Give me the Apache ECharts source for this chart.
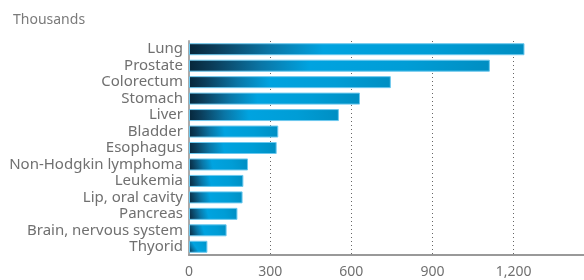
<!DOCTYPE html>
<html>
<head>
<meta charset="utf-8">
<script src="https://cdn.jsdelivr.net/npm/echarts@6/dist/echarts.min.js"></script>
<style>
html,body{margin:0;padding:0;background:#fff;}
#c{width:584px;height:280px;}
</style>
</head>
<body>
<div id="c"></div>
<script>
const categories = ["Lung","Prostate","Colorectum","Stomach","Liver","Bladder","Esophagus","Non-Hodgkin lymphoma","Leukemia","Lip, oral cavity","Pancreas","Brain, nervous system","Thyorid"];
const values = [1240, 1112, 746, 632, 554, 330, 324, 218, 201, 198, 179, 139, 68];
const xTicks = [0, 300, 600, 900, 1200];
const unitLabel = "Thousands";

const chart = echarts.init(document.getElementById('c'), null, {renderer:'canvas'});
const font = '"Noto Sans", sans-serif';
chart.setOption({
  animation: false,
  backgroundColor: '#fff',
  title: {
    text: unitLabel, left: 8, top: 8,
    textStyle: {color: '#7a7a7a', fontSize: 14, fontWeight: 'normal', fontFamily: font}
  },
  grid: {left: 189, right: 0, top: 41, bottom: 25, containLabel: false, outerBoundsMode: 'none'},
  xAxis: {
    type: 'value', min: 0, max: 1460, interval: 300,
    axisLine: {show: true, lineStyle: {color: '#999', width: 2}},
    axisTick: {show: false},
    splitLine: {show: true, lineStyle: {color: '#666', type: [1, 3], width: 1}},
    axisLabel: {
      color: '#707070', fontSize: 14, fontFamily: font, margin: 10,
      showMaxLabel: false,
      formatter: v => xTicks.includes(v) ? v.toLocaleString('en-US') : ''
    }
  },
  yAxis: {
    type: 'category', data: categories, inverse: true,
    axisLine: {show: true, lineStyle: {color: '#aaa', width: 2}},
    axisTick: {show: false},
    axisLabel: {color: '#707070', fontSize: 15, fontFamily: font, margin: 6, interval: 0, lineHeight: 16}
  },
  series: [{
    type: 'bar', data: values, barWidth: 12,
    itemStyle: {
      borderColor: '#6cc8ee', borderWidth: 1,
      color: {
        type: 'linear', x: 0, y: 1, x2: 1, y2: 0,
        colorStops: [
          {offset: 0, color: '#07263a'},
          {offset: 0.08, color: '#0b3d5a'},
          {offset: 0.24, color: '#0a76a6'},
          {offset: 0.4, color: '#00a3e0'},
          {offset: 0.72, color: '#009dd6'},
          {offset: 1, color: '#008ec2'}
        ]
      }
    }
  }]
});
</script>
</body>
</html>
